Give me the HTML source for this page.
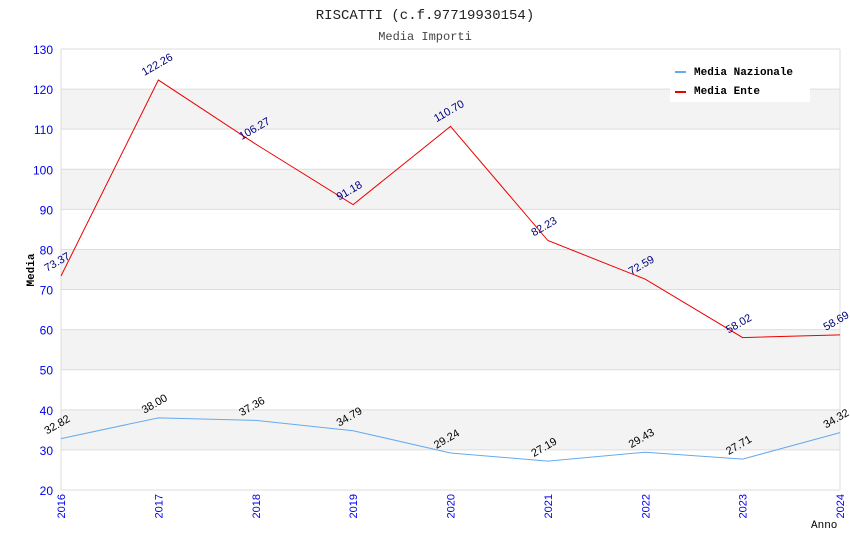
<!DOCTYPE html>
<html><head><meta charset="utf-8"><style>
body{margin:0;background:#fff}
svg{display:block}
</style></head><body>
<svg id="chart" width="850" height="550" xmlns="http://www.w3.org/2000/svg">
<text x="425" y="19" text-anchor="middle" font-family="Liberation Mono, monospace" font-size="14" fill="#222">RISCATTI (c.f.97719930154)</text>
<text x="425" y="40" text-anchor="middle" font-family="Liberation Mono, monospace" font-size="12" fill="#444">Media Importi</text>
<g id="bands"></g><g id="grid"></g><g id="axes"></g><g id="series"></g>
<text x="34" y="270" transform="rotate(-90 34 270)" text-anchor="middle" font-family="Liberation Mono, monospace" font-size="11" font-weight="bold" fill="#000">Media</text>
<text x="811" y="528" font-family="Liberation Mono, monospace" font-size="11" fill="#000">Anno</text>
<g>
<rect x="670" y="58" width="140" height="44" fill="#fff"/>
<rect x="675" y="71" width="11" height="2" fill="#66aaee"/>
<text x="694" y="75" font-family="Liberation Mono, monospace" font-size="11" font-weight="bold">Media Nazionale</text>
<rect x="675" y="91" width="11" height="2" fill="#ee0000"/>
<text x="694" y="94" font-family="Liberation Mono, monospace" font-size="11" font-weight="bold">Media Ente</text>
</g>
</svg>
<script>
const years=["2016","2017","2018","2019","2020","2021","2022","2023","2024"];
const nazionale=[32.82,38.00,37.36,34.79,29.24,27.19,29.43,27.71,34.32];
const ente=[73.37,122.26,106.27,91.18,110.70,82.23,72.59,58.02,58.69];
const yTicks=[20,30,40,50,60,70,80,90,100,110,120,130];
const NS="http://www.w3.org/2000/svg";
const L=61,R=840,T=49,B=490,yMin=20,yMax=130;
const xs=i=>L+i*(R-L)/(years.length-1);
const ys=v=>B-(v-yMin)*(B-T)/(yMax-yMin);
function mk(tag,at,parent){const e=document.createElementNS(NS,tag);for(const k in at)e.setAttribute(k,at[k]);document.getElementById(parent).appendChild(e);return e;}
for(let i=0;i<yTicks.length-1;i++){
 const v=yTicks[i];
 if(v%20===10&&v>=30){const r=mk('rect',{x:L,y:ys(v+10),width:R-L,height:ys(v)-ys(v+10),fill:'#f3f3f3'},'bands');
 
 }
}
yTicks.forEach(v=>{
 const l=mk('line',{x1:L,x2:R,y1:ys(v),y2:ys(v),stroke:'#dddddd','stroke-width':1},'grid');
 
 
 const t=mk('text',{x:L-8,y:ys(v)+5,'text-anchor':'end','font-family':'Liberation Sans, sans-serif','font-size':12,fill:'#0000ee'},'axes');
 t.textContent=v;
 
 
});
mk('line',{x1:L,x2:L,y1:T,y2:B,stroke:'#ddd'},'axes');
mk('line',{x1:R,x2:R,y1:T,y2:B,stroke:'#ddd'},'axes');
years.forEach((y,i)=>{
 const x=xs(i);
 const t=mk('text',{x:x+4,y:B+4,transform:`rotate(-90 ${x+4} ${B+4})`,'text-anchor':'end','font-family':'Liberation Sans, sans-serif','font-size':11,fill:'#0000ee'},'axes');
 t.textContent=y;
 
 
});
function series(vals,color,lblColor,name){
 const p=mk('polyline',{points:vals.map((v,i)=>xs(i)+','+ys(v)).join(' '),fill:'none',stroke:color,'stroke-width':1},'series');
 
 
 vals.forEach((v,i)=>{
  const x=xs(i)-14,y=ys(v)-4;
  const t=mk('text',{x:x,y:y,transform:`rotate(-30 ${x} ${y})`,'font-family':'Liberation Sans, sans-serif','font-size':11,fill:lblColor},'series');
  t.textContent=v.toFixed(2);
  
  
 });
}
series(nazionale,'#66aaee','#000','nazionale');
series(ente,'#ee0000','#000080','ente');
</script>
</body></html>
